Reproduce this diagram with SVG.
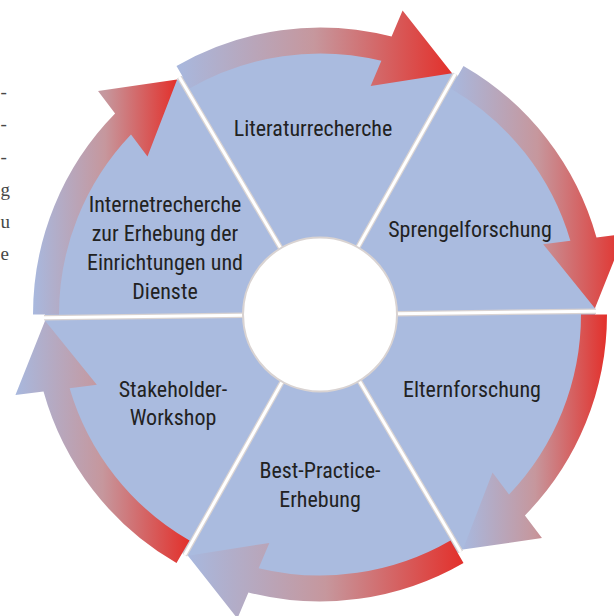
<svg xmlns="http://www.w3.org/2000/svg" width="614" height="616" viewBox="0 0 614 616">
<defs>
<linearGradient id="arrowGrad" x1="0" y1="0" x2="1" y2="0">
<stop offset="0" stop-color="#a8b8de"/>
<stop offset="0.5" stop-color="#c6979d"/>
<stop offset="1" stop-color="#e3302b"/>
</linearGradient>
</defs>
<style>
.sector{fill:#aabbdf;stroke:none}
.arrow{fill:url(#arrowGrad);stroke:none}
.divshadow{stroke:#d9d3d2;stroke-width:5.5;fill:none}
.div{stroke:#ffffff;stroke-width:3;fill:none}
.lbl{font-family:"Liberation Sans Narrow","Roboto Condensed","DejaVu Sans Condensed","Liberation Sans",sans-serif;font-stretch:condensed;font-size:22px;fill:#222222;text-anchor:middle}
.margin{font-family:"Liberation Serif",serif;font-size:19px;fill:#474747}
</style>
<rect width="614" height="616" fill="#ffffff"/>
<g id="margin-text">
<text class="margin" x="0.5" y="98">-</text>
<text class="margin" x="0.5" y="130">-</text>
<text class="margin" x="0.5" y="163">-</text>
<text class="margin" x="0.5" y="196">g</text>
<text class="margin" x="0.5" y="228">u</text>
<text class="margin" x="0.5" y="260">e</text>
</g>
<g id="node-literaturrecherche">
<path class="sector" d="M320,314.5 L179.80,77.91 A275,275 0 0 1 454.79,74.80 Z"/>
<text class="lbl" x="313" y="136">Literaturrecherche</text>
</g>
<g id="node-sprengelforschung">
<path class="sector" d="M320,314.5 L454.79,74.80 A275,275 0 0 1 594.98,311.38 Z"/>
<text class="lbl" x="470" y="237">Sprengelforschung</text>
</g>
<g id="node-elternforschung">
<path class="sector" d="M320,314.5 L594.98,311.38 A275,275 0 0 1 460.20,551.09 Z"/>
<text class="lbl" x="472" y="397">Elternforschung</text>
</g>
<g id="node-best-practice">
<path class="sector" d="M320,314.5 L460.20,551.09 A275,275 0 0 1 185.21,554.20 Z"/>
<text class="lbl" x="320" y="478">Best-Practice-</text>
<text class="lbl" x="320" y="507">Erhebung</text>
</g>
<g id="node-stakeholder">
<path class="sector" d="M320,314.5 L185.21,554.20 A275,275 0 0 1 45.02,317.62 Z"/>
<text class="lbl" x="173" y="397">Stakeholder-</text>
<text class="lbl" x="173" y="425">Workshop</text>
</g>
<g id="node-internetrecherche">
<path class="sector" d="M320,314.5 L45.02,317.62 A275,275 0 0 1 179.80,77.91 Z"/>
<text class="lbl" x="165" y="212">Internetrecherche</text>
<text class="lbl" x="165" y="241">zur Erhebung der</text>
<text class="lbl" x="165" y="270">Einrichtungen und</text>
<text class="lbl" x="165" y="299">Dienste</text>
</g>
<g id="dividers">
<line class="divshadow" x1="396" y1="313.64" x2="595.98" y2="311.37"/>
<line class="divshadow" x1="358.75" y1="379.9" x2="460.71" y2="551.94"/>
<line class="divshadow" x1="282.75" y1="380.75" x2="184.72" y2="555.08"/>
<line class="divshadow" x1="244" y1="315.36" x2="44.02" y2="317.63"/>
<line class="divshadow" x1="281.25" y1="249.1" x2="179.3" y2="77.06"/>
<line class="divshadow" x1="357.25" y1="248.25" x2="455.28" y2="73.92"/>
<line class="div" x1="396" y1="313.64" x2="595.98" y2="311.37"/>
<line class="div" x1="358.75" y1="379.9" x2="460.71" y2="551.94"/>
<line class="div" x1="282.75" y1="380.75" x2="184.72" y2="555.08"/>
<line class="div" x1="244" y1="315.36" x2="44.02" y2="317.63"/>
<line class="div" x1="281.25" y1="249.1" x2="179.3" y2="77.06"/>
<line class="div" x1="357.25" y1="248.25" x2="455.28" y2="73.92"/>
</g>
<g id="connectors">
<path class="arrow" d="M607,314.5 A287,287 0 0 1 524.92,515.45 L541.96,538.02 L462.87,549.48 L492.52,472.59 L509.01,494.49 A261,261 0 0 0 581,314.5 Z"/>
<path class="arrow" d="M463.5,563.05 A287,287 0 0 1 248.43,592.45 L237.40,618.48 L187.94,555.72 L269.35,542.96 L258.63,568.19 A261,261 0 0 0 450.5,540.53 Z"/>
<path class="arrow" d="M176.5,563.05 A287,287 0 0 1 43.51,391.49 L15.44,394.96 L45.06,320.74 L96.83,384.86 L69.61,388.19 A261,261 0 0 0 189.5,540.53 Z"/>
<path class="arrow" d="M33,314.5 A287,287 0 0 1 115.08,113.55 L98.04,90.98 L177.13,79.52 L147.48,156.41 L130.99,134.51 A261,261 0 0 0 59,314.5 Z"/>
<path class="arrow" d="M176.5,65.95 A287,287 0 0 1 391.57,36.55 L402.60,10.52 L452.06,73.28 L370.65,86.04 L381.37,60.81 A261,261 0 0 0 189.5,88.47 Z"/>
<path class="arrow" d="M463.5,65.95 A287,287 0 0 1 596.49,237.51 L624.56,234.04 L594.94,308.26 L543.17,244.14 L570.39,240.81 A261,261 0 0 0 450.5,88.47 Z"/>
</g>
<g id="center">
<circle cx="320" cy="314.5" r="77" fill="#ffffff" stroke="#d9d3d2" stroke-width="2"/>
</g>
</svg>
